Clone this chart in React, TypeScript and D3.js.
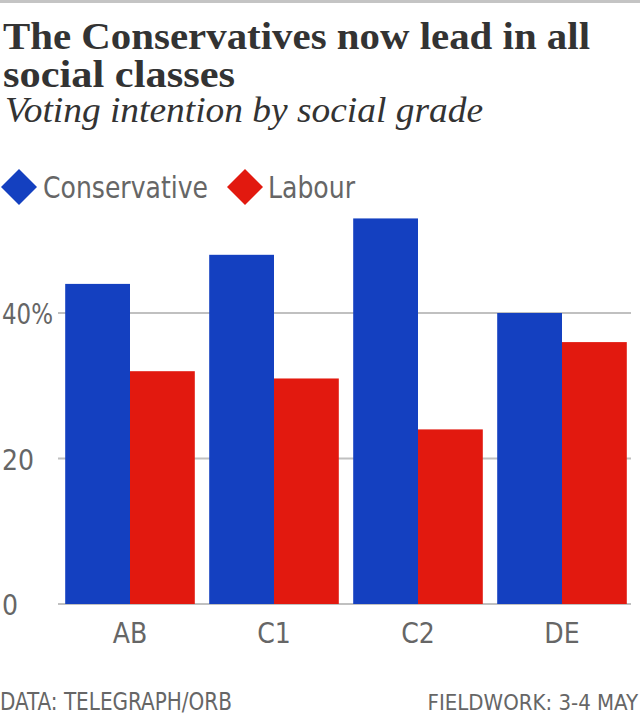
import React from "react";
import * as d3 from "d3";

const categories = ["AB", "C1", "C2", "DE"];
const seriesNames = ["Conservative", "Labour"];
const conservative = [44, 48, 53, 40];
const labour = [32, 31, 24, 36];
const yTicks = [0, 20, 40];
const colors = ["#1440c0", "#e2190f"];

const W = 640;
const H = 717;
const SANS = "'DejaVu Sans Condensed', 'Liberation Sans Narrow', 'DejaVu Sans', sans-serif";
const SERIF = "'Liberation Serif', 'DejaVu Serif', serif";

export default function App() {
  const x0 = d3.scaleBand<string>().domain(categories).range([58, 634]).paddingInner(0.1).paddingOuter(0.05);
  const x1 = d3.scaleBand<string>().domain(seriesNames).range([0, x0.bandwidth()]).padding(0);
  const y = d3.scaleLinear().domain([0, 40]).range([604, 313]);
  const series = [conservative, labour];

  return (
    <svg width={W} height={H} style={{ position: "absolute", left: 0, top: 0, background: "#fff" }}>
      <rect x={0} y={0} width={W} height={3} fill="#c4c4c4" />
      <text x={3} y={49} fontFamily={SERIF} fontWeight="bold" fontSize={38} fill="#333" textLength={587} lengthAdjust="spacingAndGlyphs">
        The Conservatives now lead in all
      </text>
      <text x={3} y={87} fontFamily={SERIF} fontWeight="bold" fontSize={38} fill="#333" textLength={232} lengthAdjust="spacingAndGlyphs">
        social classes
      </text>
      <text x={5} y={122} fontFamily={SERIF} fontStyle="italic" fontSize={35} fill="#333" textLength={478} lengthAdjust="spacingAndGlyphs">
        Voting intention by social grade
      </text>

      {/* legend */}
      {seriesNames.map((s, i) => {
        const cx = i === 0 ? 19 : 245;
        const tx = i === 0 ? 43 : 268;
        const tl = i === 0 ? 165 : 87;
        return (
          <g key={s}>
            <path d={`M${cx - 18},187 L${cx},169 L${cx + 18},187 L${cx},205 Z`} fill={colors[i]} />
            <text x={tx} y={198} fontFamily={SANS} fontSize={30} fill="#666" textLength={tl} lengthAdjust="spacingAndGlyphs">
              {s}
            </text>
          </g>
        );
      })}

      {/* gridlines */}
      {yTicks.map((t) => (
        <g key={t}>
          <line x1={58} x2={631} y1={y(t)} y2={y(t)} stroke="#c0c0c0" strokeWidth={2} />
          {t === 40 ? (
            <text x={2} y={y(t) + 11} fontFamily={SANS} fontSize={28} fill="#666" textLength={51} lengthAdjust="spacingAndGlyphs">
              40%
            </text>
          ) : (
            <text x={2} y={y(t) + 11} fontFamily={SANS} fontSize={28} fill="#666">
              {String(t)}
            </text>
          )}
        </g>
      ))}

      {/* bars */}
      {categories.map((c, ci) => (
        <g key={c} transform={`translate(${x0(c)},0)`}>
          {series.map((vals, si) => (
            <rect
              key={si}
              x={x1(seriesNames[si])}
              y={y(vals[ci])}
              width={x1.bandwidth()}
              height={y(0) - y(vals[ci])}
              fill={colors[si]}
            />
          ))}
          <text x={x0.bandwidth() / 2} y={643} textAnchor="middle" fontFamily={SANS} fontSize={28} fill="#666">
            {c}
          </text>
        </g>
      ))}

      <text x={0} y={710} fontFamily={SANS} fontSize={24} fill="#666" textLength={232} lengthAdjust="spacingAndGlyphs">
        DATA: TELEGRAPH/ORB
      </text>
      <text x={638} y={710} textAnchor="end" fontFamily={SANS} fontSize={22} fill="#666">
        FIELDWORK: 3-4 MAY
      </text>
    </svg>
  );
}
